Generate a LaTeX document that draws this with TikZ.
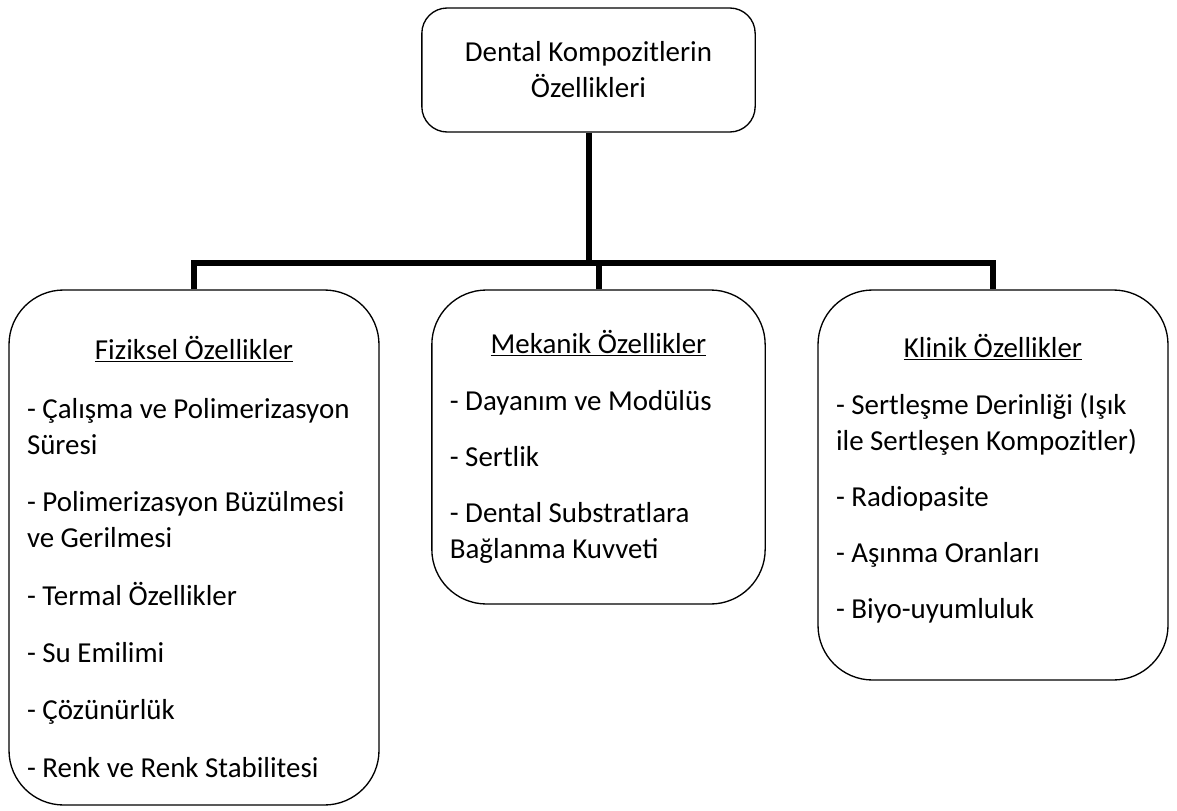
\documentclass[tikz,border=0pt]{standalone}
\usepackage{fontspec}
\setmainfont{Carlito}
\usetikzlibrary{positioning}
\newcommand{\boxtitle}[1]{\makebox[\linewidth][c]{\underline{#1}}}
\tikzset{
x=0.75pt, y=-0.75pt, % one unit is one pixel of the page, y runs down
every node/.style={font=\fontsize{21.7}{27}\selectfont}, % text size and line spacing
top/.style={draw, line width=1pt, rounded corners=19pt, align=center, minimum width=250pt, minimum height=93pt}, % the heading box
group/.style={draw, line width=1pt, rounded corners=41pt, inner xsep=13.5pt, align=flush left}, % the three property boxes
link/.style={line width=4.5pt}, % the thick connectors
}

\begin{document}
\begin{tikzpicture}
       \useasboundingbox (0,0) rectangle (1177,810);
       \node[top] (TOP) at (588.5,70) {Dental Kompozitlerin\\Özellikleri};
       \node[group, minimum width=277.5pt, minimum height=386.25pt, text width=250.5pt] (FIZ) at (194,547.5)
            {\rule{0pt}{31pt}\boxtitle{Fiziksel Özellikler}\\[17.5pt]
             - Çalışma ve Polimerizasyon\\ Süresi\\[16pt]
             - Polimerizasyon Büzülmesi\\ ve Gerilmesi\\[16pt]
             - Termal Özellikler\\[16pt]
             - Su Emilimi\\[16pt]
             - Çözünürlük\\[16pt]
             - Renk ve Renk Stabilitesi};
       \node[group, minimum width=250pt, minimum height=235.5pt, text width=223pt] (MEK) at (598.5,447)
            {\boxtitle{Mekanik Özellikler}\\[16pt]
             - Dayanım ve Modülüs\\[15pt]
             - Sertlik\\[15pt]
             - Dental Substratlara\\ Bağlanma Kuvveti};
       \node[group, minimum width=262.5pt, minimum height=292.5pt, text width=235.5pt] (KLI) at (993,485)
            {\boxtitle{Klinik Özellikler}\\[16pt]
             - Sertleşme Derinliği (Işık\\ ile Sertleşen Kompozitler)\\[15pt]
             - Radiopasite\\[15pt]
             - Aşınma Oranları\\[15pt]
             - Biyo-uyumluluk\rule[-12.5pt]{0pt}{0pt}};

       \coordinate (BUS) at (0,263);
       \draw[link] (TOP.south) -- (TOP.south |- BUS);
       \draw[link] (FIZ.north) -- (FIZ.north |- BUS) -- (KLI.north |- BUS) -- (KLI.north);
       \draw[link] (MEK.north) -- (MEK.north |- BUS);
    \end{tikzpicture}
\end{document}
